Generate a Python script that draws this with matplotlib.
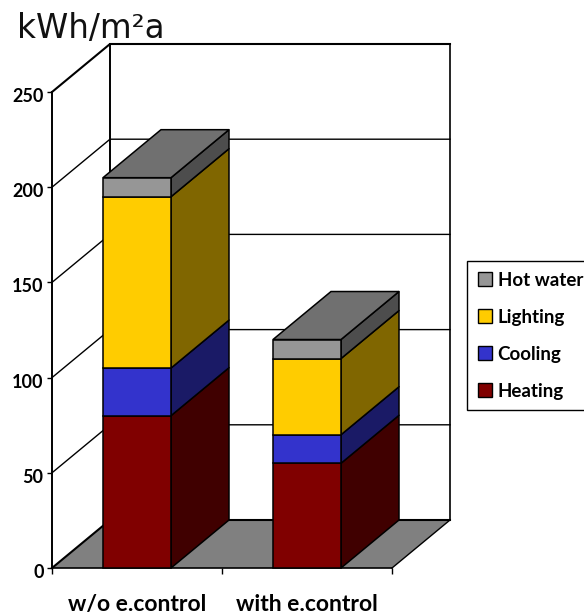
import matplotlib
matplotlib.use("Agg")
import matplotlib.pyplot as plt
from matplotlib.patches import Patch
from matplotlib.transforms import ScaledTranslation

categories = ["w/o e.control", "with e.control"]
series_names = ["Heating", "Cooling", "Lighting", "Hot water"]
heating = [80, 55]
cooling = [25, 15]
lighting = [90, 40]
hot_water = [10, 10]
series_values = [heating, cooling, lighting, hot_water]
y_ticks = [0, 50, 100, 150, 200, 250]

front_colors = ["#800000", "#3333cc", "#ffcc00", "#969696"]
side_colors = ["#400000", "#1a1a66", "#806600", "#4d4d4d"]
top_color = "#707070"
floor_color = "#808080"

W, H = 584, 616
DX = 58 / 170   # depth in category units
DY = 48 / 1.904   # depth in value units
BAR_W = 0.4
LW = 1.1
FONT = "Lato"

fig = plt.figure(figsize=(W / 100, H / 100), dpi=100)
ax = fig.add_axes([52 / W, (H - 568) / H, 340 / W, 476 / H])
ax.set_xlim(-0.5, 1.5)
ax.set_ylim(0, 250)
ax.patch.set_visible(False)

x0, x1 = ax.get_xlim()
top = y_ticks[-1]

# floor
ax.fill([x0, x1, x1 + DX, x0 + DX], [0, 0, DY, DY], color=floor_color, lw=0, zorder=1, clip_on=False)

# walls and gridlines
for v in y_ticks:
    lw = 1.5 if v in (0, top) else 1.0
    ax.plot([x0, x0 + DX, x1 + DX], [v, v + DY, v + DY], color="black", lw=lw, zorder=1.5,
            clip_on=False, solid_joinstyle="miter")
ax.plot([x0 + DX, x0 + DX], [DY, top + DY], color="black", lw=1.4, zorder=1.5, clip_on=False)
ax.plot([x1 + DX, x1 + DX], [DY, top + DY], color="black", lw=1.2, zorder=1.5, clip_on=False)
ax.plot([x1, x1 + DX], [0, DY], color="black", lw=1.0, zorder=1.5, clip_on=False)

# stacked 3-D bars
for i in range(len(categories)):
    left, right = i - BAR_W / 2, i + BAR_W / 2
    base = 0
    z = 3 + i
    for vals, fc, sc in zip(series_values, front_colors, side_colors):
        val = vals[i]
        ax.fill([right, right + DX, right + DX, right],
                [base, base + DY, base + val + DY, base + val],
                facecolor=sc, edgecolor="black", lw=LW, zorder=z, clip_on=False, joinstyle="round")
        ax.bar(i, val, BAR_W, bottom=base, color=fc, edgecolor="black", lw=LW, zorder=z + 0.2, clip_on=False)
        base += val
    ax.fill([left, right, right + DX, left + DX], [base, base, base + DY, base + DY],
            facecolor=top_color, edgecolor="black", lw=LW, zorder=z + 0.1, clip_on=False)

# axes
for s in ("top", "right"):
    ax.spines[s].set_visible(False)
ax.spines["left"].set_linewidth(1.4)
ax.spines["bottom"].set_linewidth(1.2)
ax.spines["left"].set_zorder(2)
ax.spines["bottom"].set_zorder(2)
ax.set_yticks(y_ticks)
ax.set_xticks(range(len(categories)))
ax.set_xticklabels(categories, fontfamily=FONT, fontweight="bold", fontsize=16.5)
ax.set_xticks([-0.5, 0.5, 1.5], minor=True)
ax.tick_params(axis="x", which="major", length=0, pad=19)
ax.tick_params(axis="x", which="minor", length=4.5, width=1.0)
ax.tick_params(axis="y", length=3.5, width=1.0, pad=2.5)
shift = ScaledTranslation(0, -3 / 100, fig.dpi_scale_trans)
for t in ax.get_yticklabels():
    t.set_fontfamily(FONT)
    t.set_fontweight("bold")
    t.set_fontsize(13)
    t.set_transform(t.get_transform() + shift)

# title
fig.text(17 / W, 1 - 38 / H, "kWh/m²a", fontsize=23.5, family="DejaVu Sans", color="#111111", va="baseline")

# legend
handles = [Patch(facecolor=c, edgecolor="black", lw=1.0, label=n) for c, n in zip(front_colors, series_names)][::-1]
leg = fig.legend(handles=handles, loc="upper left", bbox_to_anchor=(467 / W, 1 - 261 / H),
                 bbox_transform=fig.transFigure, fancybox=False, edgecolor="black", framealpha=1,
                 prop={"family": FONT, "weight": "bold", "size": 13.5},
                 handlelength=0.75, handleheight=0.75, handletextpad=0.33, labelspacing=1.07,
                 borderpad=0.56, borderaxespad=0)
leg.get_frame().set_linewidth(1.0)

fig.savefig("out.png", dpi=100)
